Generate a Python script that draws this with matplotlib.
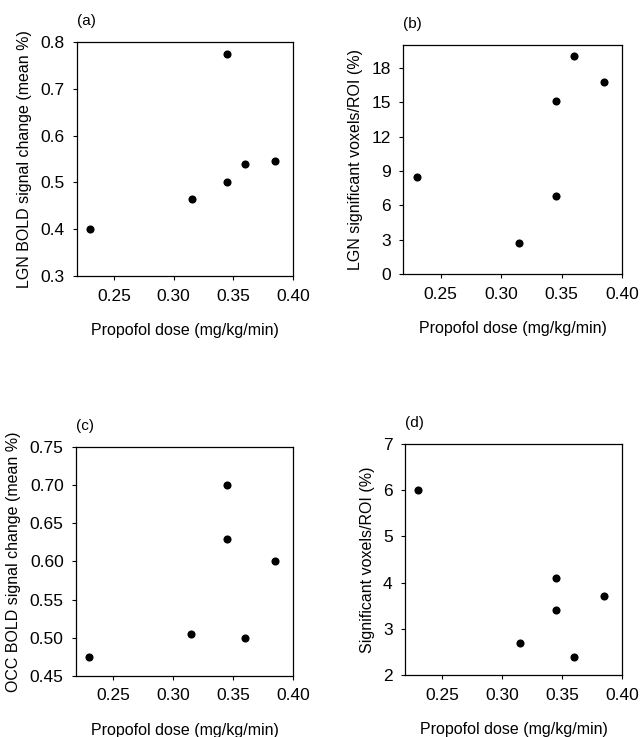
import matplotlib
matplotlib.use("Agg")
import matplotlib.pyplot as plt

plt.rcParams['font.family'] = ['Liberation Sans', 'DejaVu Sans']

dose = [0.23, 0.315, 0.345, 0.345, 0.36, 0.385]
lgn_bold = [0.40, 0.465, 0.775, 0.50, 0.54, 0.545]
lgn_vox = [8.5, 2.7, 15.1, 6.8, 19.0, 16.8]
occ_bold = [0.475, 0.505, 0.70, 0.63, 0.50, 0.60]
occ_vox = [6.0, 2.7, 4.1, 3.4, 2.4, 3.7]

xticks = [0.25, 0.30, 0.35, 0.40]
xtick_labels = ["0.25", "0.30", "0.35", "0.40"]

fig = plt.figure(figsize=(6.40, 7.37), dpi=100)

panels = [
    dict(rect=[0.120, 0.6255, 0.338, 0.3175], y=lgn_bold, ylim=(0.3, 0.8),
         yticks=[0.3, 0.4, 0.5, 0.6, 0.7, 0.8], fmt="{:.1f}",
         ylabel="LGN BOLD signal change (mean %)", tag="(a)"),
    dict(rect=[0.630, 0.628, 0.342, 0.311], y=lgn_vox, ylim=(0, 20),
         yticks=[0, 3, 6, 9, 12, 15, 18], fmt="{:d}",
         ylabel="LGN significant voxels/ROI (%)", tag="(b)"),
    dict(rect=[0.119, 0.0828, 0.339, 0.3107], y=occ_bold, ylim=(0.45, 0.75),
         yticks=[0.45, 0.50, 0.55, 0.60, 0.65, 0.70, 0.75], fmt="{:.2f}",
         ylabel="OCC BOLD signal change (mean %)", tag="(c)"),
    dict(rect=[0.633, 0.0841, 0.339, 0.3135], y=occ_vox, ylim=(2, 7),
         yticks=[2, 3, 4, 5, 6, 7], fmt="{:d}",
         ylabel="Significant voxels/ROI (%)", tag="(d)"),
]

for p in panels:
    ax = fig.add_axes(p["rect"])
    ax.scatter(dose, p["y"], s=34, color="black", zorder=3, linewidths=0)
    ax.set_xlim(0.219, 0.40)
    ax.set_ylim(*p["ylim"])
    ax.set_xticks(xticks)
    ax.set_xticklabels(xtick_labels)
    ax.set_yticks(p["yticks"])
    ax.set_yticklabels([p["fmt"].format(v) for v in p["yticks"]])
    ax.tick_params(direction="out", length=3, width=0.8, labelsize=12.5, pad=6)
    for s in ax.spines.values():
        s.set_linewidth(0.9)
    ax.set_xlabel("Propofol dose (mg/kg/min)", fontsize=11.5, labelpad=14)
    ax.set_ylabel(p["ylabel"], fontsize=11.5, labelpad=6)
    ax.text(0.0, 1.06, p["tag"], transform=ax.transAxes, fontsize=11,
            ha="left", va="bottom")

fig.savefig("out.png", dpi=100)
